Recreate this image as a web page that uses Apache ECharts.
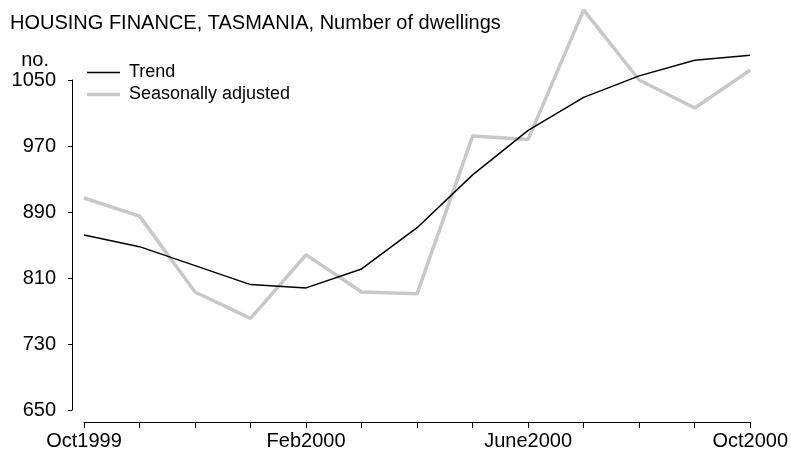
<!DOCTYPE html>
<html>
<head>
<meta charset="utf-8">
<script src="https://cdn.jsdelivr.net/npm/echarts@6/dist/echarts.min.js"></script>
<style>html,body{margin:0;padding:0;background:#fff}#c{width:791px;height:452px}</style>
</head>
<body>
<div id="c"></div>
<script>
var categories = ['Oct1999','Nov1999','Dec1999','Jan2000','Feb2000','Mar2000','Apr2000','May2000','June2000','Jul2000','Aug2000','Sep2000','Oct2000'];
var tickLabels = ['Oct1999','','','','Feb2000','','','','June2000','','','','Oct2000'];
var trend = [862, 848, 825, 802, 798, 821, 871, 935, 989, 1029, 1055, 1074, 1080];
var seasonallyAdjusted = [907, 885, 793, 761, 838, 793, 791, 982, 978, 1135, 1050, 1016, 1062];
var yTicks = [650, 730, 810, 890, 970, 1050];

var font = 'Liberation Sans';
var trendColor = '#000000';
var saColor = '#c8c8c8';
var chart = echarts.init(document.getElementById('c'));
function legendFor(name, top, h, color) {
  return {
    orient: 'vertical', left: 87, top: top, padding: 0,
    itemWidth: 33, itemHeight: h, icon: 'rect',
    textStyle: {fontFamily: font, fontSize: 18, color: '#000', padding: [0, 0, 0, 4]},
    data: [{name: name, icon: 'rect', itemStyle: {color: color}}]
  };
}
chart.setOption({
  animation: false,
  backgroundColor: '#fff',
  title: {
    text: 'HOUSING FINANCE, TASMANIA, Number of dwellings',
    left: 5, top: 8,
    textStyle: {fontFamily: font, fontSize: 20, fontWeight: 'normal', color: '#000'}
  },
  legend: [
    legendFor('Trend', 63.5, 1.5, trendColor),
    legendFor('Seasonally adjusted', 85.5, 3.5, saColor)
  ],
  grid: {left: 84, right: 39, top: 80, bottom: 42},
  xAxis: {
    type: 'category', data: categories, boundaryGap: false, offset: 12,
    axisLine: {lineStyle: {color: '#000', width: 1}},
    axisTick: {interval: 0, length: 6, lineStyle: {color: '#000'}},
    axisLabel: {interval: 0, margin: 9, fontFamily: font, fontSize: 20, color: '#000',
      formatter: function (v, i) { return tickLabels[i]; }},
    splitLine: {show: false}
  },
  yAxis: {
    type: 'value', min: 650, max: 1050, interval: 80, offset: 12,
    name: 'no.', nameLocation: 'end', nameGap: 7,
    nameTextStyle: {fontFamily: font, fontSize: 20, color: '#000', align: 'right', padding: [0, 23, 0, 0]},
    axisLine: {show: true, lineStyle: {color: '#000', width: 1}},
    axisTick: {show: true, length: 4, lineStyle: {color: '#000'}},
    axisLabel: {margin: 16, fontFamily: font, fontSize: 20, color: '#000',
      formatter: function (v) { return yTicks.indexOf(v) >= 0 ? String(v) : ''; }},
    splitLine: {show: false}
  },
  series: [
    {name: 'Seasonally adjusted', type: 'line', data: seasonallyAdjusted, symbol: 'none', clip: false,
      lineStyle: {color: saColor, width: 3.5}, itemStyle: {color: saColor}, z: 2},
    {name: 'Trend', type: 'line', data: trend, symbol: 'none', clip: false,
      lineStyle: {color: trendColor, width: 1.5}, itemStyle: {color: trendColor}, z: 3}
  ]
});
</script>
</body>
</html>
